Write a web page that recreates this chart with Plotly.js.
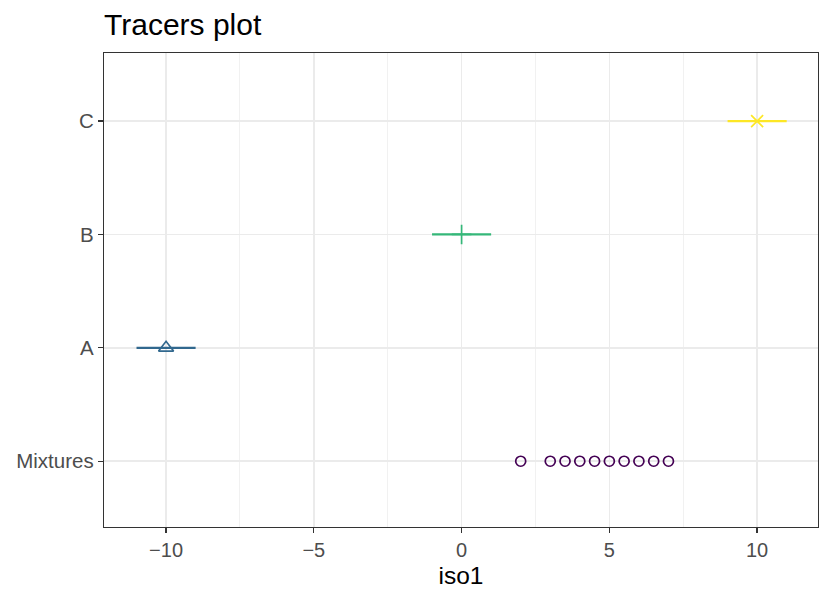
<!DOCTYPE html>
<html>
<head>
<meta charset="utf-8">
<script src="https://cdn.plot.ly/plotly-3.0.1.min.js"></script>
<style>html,body{margin:0;padding:0;background:#fff;}#chart{width:830px;height:603px;}</style>
</head>
<body>
<div id="chart"></div>
<script>
const categories = ["Mixtures", "A", "B", "C"];
const mixtureX = [2, 3, 3.5, 4, 4.5, 5, 5.5, 6, 6.5, 7];
const sourceNames = ["A", "B", "C"];
const sourceMean = [-10, 0, 10];
const sourceSD = [1, 1, 1];
const xTicks = [-10, -5, 0, 5, 10];
const xTickLabels = ["\u221210", "\u22125", "0", "5", "10"];

const colors = {"Mixtures": "#440154", "A": "#31688E", "B": "#35B779", "C": "#FDE725"};
const symbols = {"A": "triangle-up-open", "B": "cross-thin-open", "C": "x-thin-open"};
const sizes = {"A": 13, "B": 14, "C": 12};

const traces = [];
traces.push({
  type: "scatter", mode: "markers",
  x: mixtureX, y: mixtureX.map(() => "Mixtures"),
  marker: {symbol: "circle-open", size: 10, color: colors["Mixtures"], line: {width: 1.7, color: colors["Mixtures"]}},
  showlegend: false, hoverinfo: "x+y"
});
sourceNames.forEach((s, i) => {
  traces.push({
    type: "scatter", mode: "markers",
    x: [sourceMean[i]], y: [s],
    error_x: {type: "data", array: [sourceSD[i]], symmetric: true, width: 0, thickness: 2.2, color: colors[s]},
    marker: {symbol: symbols[s], size: sizes[s], color: colors[s], line: {width: 1.7, color: colors[s]}},
    showlegend: false
  });
});

const layout = {
  width: 830, height: 603,
  margin: {l: 104, r: 12, t: 53, b: 76},
  paper_bgcolor: "#ffffff", plot_bgcolor: "#ffffff",
  font: {family: "Liberation Sans, Arial, sans-serif", color: "#4D4D4D"},
  title: {text: "Tracers plot", x: 0, xref: "paper", xanchor: "left", y: 1 - 24/603, yref: "container", yanchor: "middle",
          font: {size: 30, color: "#000000", family: "Liberation Sans, Arial, sans-serif"}},
  xaxis: {
    range: [-12.1, 12.06], tickvals: xTicks, ticktext: xTickLabels,
    ticks: "outside", ticklen: 5, tickwidth: 1.3, tickcolor: "#333333",
    tickfont: {size: 20, color: "#4D4D4D"},
    showgrid: true, gridcolor: "#EBEBEB", gridwidth: 1.5,
    minor: {tickvals: [-7.5, -2.5, 2.5, 7.5], showgrid: true, gridcolor: "#EFEFEF", gridwidth: 0.9, ticks: ""},
    zeroline: false, showline: true, linecolor: "#333333", linewidth: 1.2, mirror: true,
    title: {text: "iso1", font: {size: 24.5, color: "#000000"}, standoff: 6}
  },
  yaxis: {
    type: "category", categoryorder: "array", categoryarray: categories,
    range: [-0.58, 3.6],
    ticks: "outside", ticklen: 5, tickwidth: 1.3, tickcolor: "#333333",
    tickfont: {size: 20.5, color: "#4D4D4D"},
    showgrid: true, gridcolor: "#EBEBEB", gridwidth: 1.5,
    zeroline: false, showline: true, linecolor: "#333333", linewidth: 1.2, mirror: true
  }
};

Plotly.newPlot("chart", traces, layout, {displayModeBar: false, staticPlot: true});
</script>
</body>
</html>
